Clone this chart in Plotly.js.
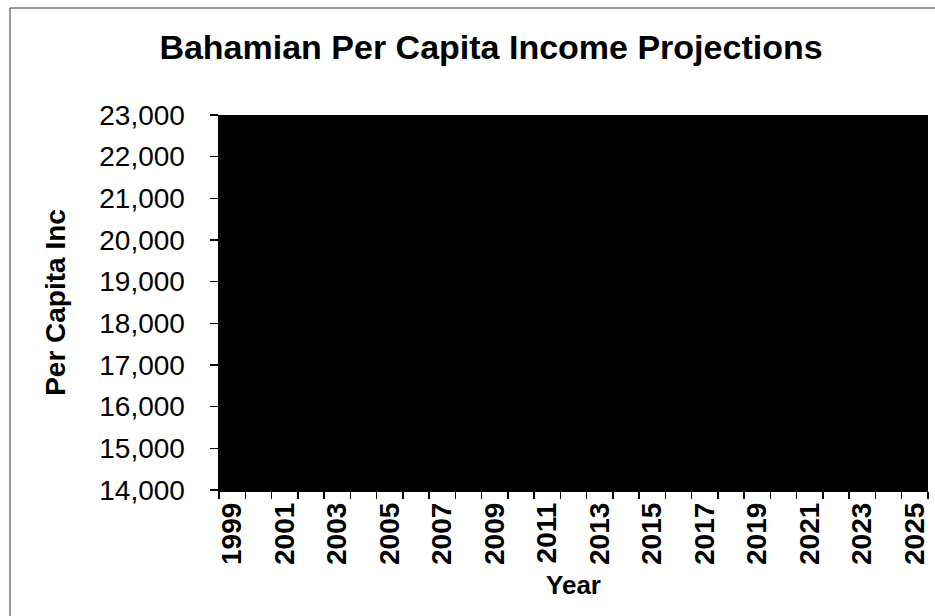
<!DOCTYPE html>
<html>
<head>
<meta charset="utf-8">
<script src="https://cdn.plot.ly/plotly-3.0.1.min.js"></script>
<style>html,body{margin:0;padding:0;background:#fff;}#chart{width:935px;height:616px;}</style>
</head>
<body>
<div id="chart"></div>
<script>
// Category axis: years shown in the chart
const years = [1999,2000,2001,2002,2003,2004,2005,2006,2007,2008,2009,2010,2011,2012,2013,2014,2015,2016,2017,2018,2019,2020,2021,2022,2023,2024,2025];
// Labelled years (every second year)
const yearLabels = years.filter(y => (y - 1999) % 2 === 0);
// Y axis ticks (per capita income)
const yTicks = [14000,15000,16000,17000,18000,19000,20000,21000,22000,23000];

const chartTitle = "Bahamian Per Capita Income Projections";
const xTitle = "Year";
const yTitle = "Per Capita Inc";

const data = [{
  type: 'scatter',
  mode: 'none',
  x: years,
  y: years.map(() => null),
  hoverinfo: 'skip',
  showlegend: false
}];

const W = 709, H = 375, L = 219, T = 115;
const layout = {
  width: 935, height: 616,
  margin: {l: L, r: 935 - L - W, t: T, b: 616 - T - H, pad: 0},
  paper_bgcolor: '#ffffff',
  plot_bgcolor: '#000000',
  showlegend: false,
  title: {
    text: '<b>' + chartTitle + '</b>',
    font: {family: 'Liberation Sans, Arial, sans-serif', size: 34, color: '#000'},
    x: 491 / 935, xref: 'container', xanchor: 'center',
    y: 1 - 47 / 616, yref: 'container', yanchor: 'middle'
  },
  xaxis: {
    type: 'linear',
    range: [years[0] - 0.5, years[years.length - 1] + 0.5],
    tickmode: 'array',
    tickvals: yearLabels,
    ticktext: yearLabels.map(String),
    tickangle: -90,
    ticks: '',
    ticklabelstandoff: 0,
    tickfont: {family: 'Liberation Sans, Arial, sans-serif', size: 28, color: '#000', weight: 'bold'},
    showgrid: false, zeroline: false,
    showline: true, linecolor: '#000', linewidth: 1.5,
    minor: {tick0: years[0] - 0.5, dtick: 1, ticks: 'outside', ticklen: 7, tickcolor: '#000', tickwidth: 1.5, showgrid: false},
    title: {text: '<b>' + xTitle + '</b>', standoff: 12,
      font: {family: 'Liberation Sans, Arial, sans-serif', size: 26, color: '#000'}}
  },
  yaxis: {
    range: [yTicks[0], yTicks[yTicks.length - 1]],
    tickmode: 'array',
    tickvals: yTicks,
    ticktext: yTicks.map(v => v.toLocaleString('en-US')),
    ticks: 'outside', ticklen: 8, tickcolor: '#000', tickwidth: 1.5,
    ticklabelstandoff: 19,
    tickfont: {family: 'Liberation Sans, Arial, sans-serif', size: 28, color: '#000'},
    showgrid: false, zeroline: false,
    showline: true, linecolor: '#000', linewidth: 1.5,
    title: {text: '<b>' + yTitle + '</b>', standoff: 25,
      font: {family: 'Liberation Sans, Arial, sans-serif', size: 28, color: '#000'}}
  },
  shapes: [{
    type: 'rect', xref: 'paper', yref: 'paper',
    x0: (10 - L) / W, x1: (945 - L) / W,
    y0: (T + H - 630) / H, y1: (T + H - 8) / H,
    line: {color: '#333', width: 1}, fillcolor: 'rgba(0,0,0,0)', layer: 'below'
  }]
};

Plotly.newPlot('chart', data, layout, {staticPlot: true, displayModeBar: false});
</script>
</body>
</html>
